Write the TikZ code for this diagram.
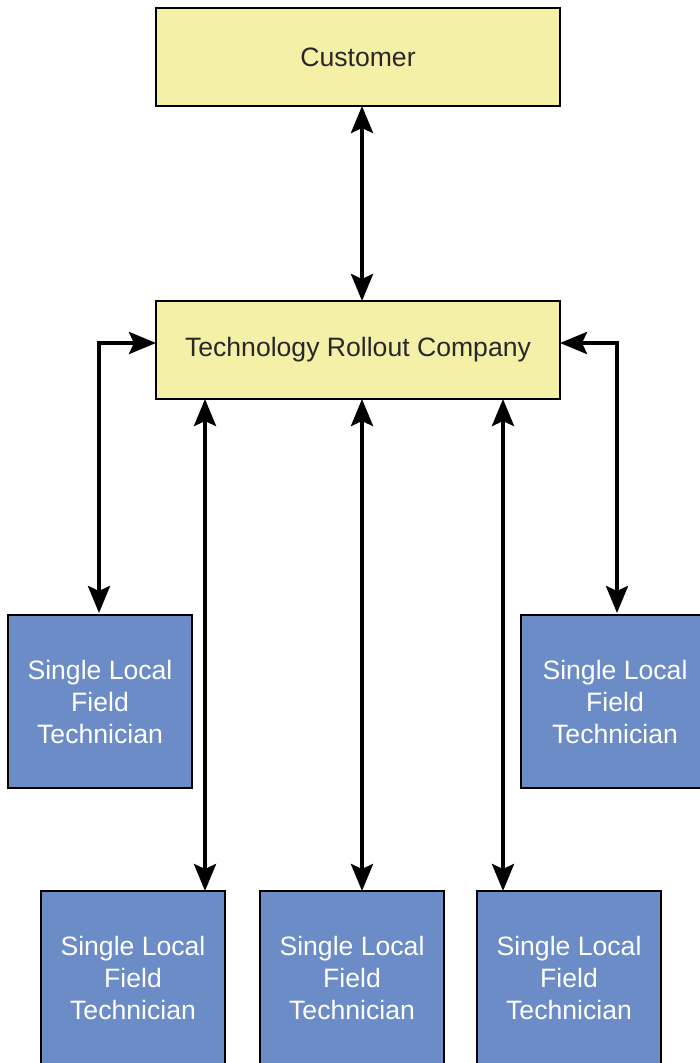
\documentclass[tikz,border=0pt]{standalone}
\usepackage{fontspec}
\setmainfont{Liberation Sans}
\usepackage{xcolor}
\usepackage{tikz}
\usetikzlibrary{positioning,calc,arrows.meta}

\definecolor{orgyellow}{RGB}{245,240,168}
\definecolor{techblue}{RGB}{108,140,200}
\definecolor{textgray}{RGB}{40,40,40}

\begin{document}
\begin{tikzpicture}[x=1pt, y=-1pt,
    orgbox/.style={draw=black, line width=2pt, fill=orgyellow, text=textgray,
      minimum width=404pt, minimum height=98pt, inner sep=0pt,
      font=\fontsize{26.6}{32}\selectfont},
    techbox/.style={draw=black, line width=2pt, fill=techblue, text=white,
      minimum width=184pt, minimum height=173pt, inner sep=0pt, align=center,
      font=\fontsize{26.6}{32}\selectfont},
    link/.style={line width=4pt, shorten <=-1pt, shorten >=-1pt,
      {Stealth[length=27pt, width=22pt, inset=5pt]}-{Stealth[length=27pt, width=22pt, inset=5pt]}}]
  \useasboundingbox (0,0) rectangle (700,1063);
  \clip (0,0) rectangle (700,1063);

  % Top level
  \node[orgbox] (cust) at (358, 57) {Customer};
  \node[orgbox] (trc) at (358, 350) {Technology Rollout Company};

  % Field technicians, side row
  \node[techbox] (lt) at (100, 701.5) {Single Local\\Field\\Technician};
  \node[techbox, minimum width=188pt] (rt) at (615, 701.5) {Single Local\\Field\\Technician};

  % Field technicians, bottom row
  \node[techbox] (bl) at (133, 977.5) {Single Local\\Field\\Technician};
  \node[techbox] (bm) at (352, 977.5) {Single Local\\Field\\Technician};
  \node[techbox] (br) at (569, 977.5) {Single Local\\Field\\Technician};

  % Links
  \draw[link] ([xshift=4pt]cust.south) -- ([xshift=4pt]trc.north);
  \draw[link] ([yshift=7pt]trc.west) -| ([xshift=-1pt, yshift=2pt]lt.north);
  \draw[link] ([yshift=7pt]trc.east) -| ([xshift=2pt, yshift=2pt]rt.north);
  \draw[link] ([xshift=-21pt]bl.north east |- trc.south) -- ([xshift=-21pt]bl.north east);
  \draw[link] ([xshift=4pt]trc.south) -- ([xshift=4pt]trc.south |- bm.north);
  \draw[link] ([xshift=27pt]br.north west |- trc.south) -- ([xshift=27pt]br.north west);
\end{tikzpicture}
\end{document}
